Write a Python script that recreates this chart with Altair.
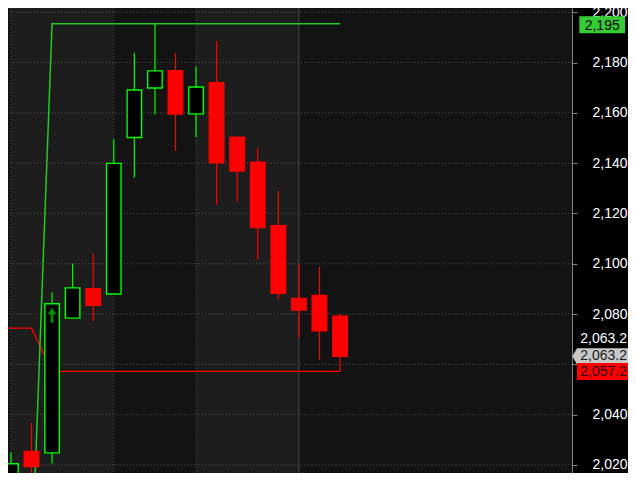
import altair as alt
import pandas as pd

# ---- candle data (bar index, OHLC) ----
idx = list(range(17))
opens  = [2012.0, 2025.4, 2024.8, 2078.4, 2090.1, 2088.0, 2150.2, 2169.9, 2176.8, 2159.6, 2172.0, 2150.3, 2140.4, 2115.1, 2086.2, 2087.4, 2079.1]
highs  = [2025.1, 2036.7, 2088.6, 2100.0, 2104.0, 2149.5, 2183.9, 2195.4, 2183.9, 2178.4, 2188.6, 2150.3, 2145.9, 2128.9, 2100.0, 2098.7, 2080.1]
lows   = [2008.0, 2010.0, 2020.6, 2078.4, 2077.2, 2088.0, 2134.2, 2159.4, 2144.9, 2150.4, 2123.5, 2124.7, 2101.6, 2085.9, 2070.6, 2061.8, 2057.2]
closes = [2020.5, 2019.4, 2084.1, 2090.4, 2083.5, 2139.9, 2169.1, 2176.7, 2159.5, 2170.3, 2140.1, 2136.9, 2114.4, 2088.3, 2081.6, 2073.3, 2063.2]

# indicator lines
green_idx = [1, 2, 16]
green_val = [1978.0, 2195.4, 2195.4]
red_idx = [-1, 1, 2, 16]
red_val = [2074.4, 2074.4, 2057.2, 2057.2]

# session bands / breaks
band_start = [-2, 0, 5, 9, 14]
band_end = [0, 5, 9, 14, 30]
band_shade = ["dark", "light", "dark", "light", "dark"]
dotted_breaks = [0, 5, 9]
solid_breaks = [14]

grid_values = [2020, 2040, 2060, 2080, 2100, 2120, 2140, 2160, 2180, 2200]
hidden_label = 2060  # covered by the price tag in the reference

arrow_idx = [2]
arrow_val = [2079.5]

hi_label_val = [2195.0]
hi_label_txt = ["2,195"]
last_val = [2063.2]
last_txt = ["2,063.2"]
lo_label_val = [2057.2]
lo_label_txt = ["2,057.2"]

W, H = 564, 465
RIGHT = 56
FONT = "Liberation Sans"

candles = pd.DataFrame({"idx": idx, "open": opens, "high": highs, "low": lows, "close": closes})
candles["body_lo"] = candles[["open", "close"]].min(axis=1)
candles["body_hi"] = candles[["open", "close"]].max(axis=1)
candles["dir"] = ["up" if c >= o else "down" for o, c in zip(opens, closes)]

xs = alt.Scale(domain=[0.1003, 27.034], nice=False, zero=False)
ys = alt.Scale(domain=[2016.8, 2201.7], nice=False, zero=False)
yaxis = alt.Axis(orient="right", values=grid_values,
                 labelExpr=f"datum.value == {hidden_label} ? '' : format(datum.value, ',d')",
                 labelColor="#ffffff",
                 labelFont=FONT, labelFontSize=14, labelAlign="right", labelBaseline="middle",
                 labelPadding=50, tickSize=5, tickColor="#808080", domainColor="#808080",
                 grid=False, title=None, labelOverlap=False, labelFlush=False, labelBound=False)

def X(field):
    return alt.X(field, type="quantitative", scale=xs, axis=None)

def Y(field):
    return alt.Y(field, type="quantitative", scale=ys, axis=yaxis)

bands = alt.Chart(pd.DataFrame({"s": band_start, "e": band_end, "shade": band_shade})).mark_rect(clip=True).encode(
    x=X("s"), x2="e", y=alt.value(0), y2=alt.value(H),
    fill=alt.Fill("shade:N", scale=alt.Scale(domain=["dark", "light"], range=["#131313", "#1d1d1d"]), legend=None),
)

hgrid = alt.Chart(pd.DataFrame({"v": grid_values})).mark_rule(color="#4f4f4f", strokeDash=[1, 2], strokeWidth=1).encode(
    y=Y("v")
)
vgrid = alt.Chart(pd.DataFrame({"b": dotted_breaks})).mark_rule(color="#4f4f4f", strokeDash=[1, 2], strokeWidth=1).encode(
    x=X("b")
)
vsolid = alt.Chart(pd.DataFrame({"b": solid_breaks})).mark_rule(color="#4a4a4a", strokeWidth=1).encode(
    x=X("b")
)

green_line = alt.Chart(pd.DataFrame({"i": green_idx, "v": green_val})).mark_line(
    clip=True, color="#22cc22", strokeWidth=1.5).encode(x=X("i"), y=Y("v"))
red_line = alt.Chart(pd.DataFrame({"i": red_idx, "v": red_val})).mark_line(
    clip=True, color="#ff0000", strokeWidth=1.3).encode(x=X("i"), y=Y("v"))

dir_stroke = alt.Scale(domain=["up", "down"], range=["#00ff00", "#ff0000"])
dir_fill = alt.Scale(domain=["up", "down"], range=["#000000", "#ff0000"])

wicks = alt.Chart(candles).mark_rule(clip=True, strokeWidth=1.2).encode(
    x=X("idx"), y=Y("low"), y2="high",
    color=alt.Color("dir:N", scale=dir_stroke, legend=None),
)
bodies = alt.Chart(candles).mark_bar(clip=True, size=14.5, strokeWidth=1.4, opacity=1).encode(
    x=X("idx"), y=Y("body_lo"), y2="body_hi",
    fill=alt.Fill("dir:N", scale=dir_fill, legend=None),
    stroke=alt.Stroke("dir:N", scale=dir_stroke, legend=None),
)

arrow = alt.Chart(pd.DataFrame({"i": arrow_idx, "v": arrow_val})).mark_point(
    shape="M0,-1 L0.6,-0.15 L0.2,-0.15 L0.2,1 L-0.2,1 L-0.2,-0.15 L-0.6,-0.15 Z",
    size=225, filled=True, color="#008a00", opacity=1, strokeWidth=0,
).encode(x=X("i"), y=Y("v"))

# price tags on the right axis
hi_df = pd.DataFrame({"v": hi_label_val, "t": hi_label_txt})
hi_box = alt.Chart(hi_df).mark_point(
    shape="M-2.285,-0.85 L2.285,-0.85 L2.285,0.85 L-2.285,0.85 Z", size=400, filled=True,
    color="#33cc33", opacity=1, strokeWidth=0).encode(x=alt.value(594.2), y=Y("v"))
hi_txt = alt.Chart(hi_df).mark_text(font=FONT, fontSize=14, color="#000000", align="center",
                                     baseline="middle", dy=1).encode(x=alt.value(594.2), y=Y("v"), text="t:N")

last_df = pd.DataFrame({"v": last_val, "t": last_txt})
last_box = alt.Chart(last_df).mark_point(
    shape="M-2.785,0 L-2.315,-0.815 L2.785,-0.815 L2.785,0.815 L-2.315,0.815 Z", size=400, filled=True,
    color="#c8c8c8", opacity=1, strokeWidth=0).encode(x=alt.value(592.15), y=Y("v"))
last_txt_m = alt.Chart(last_df).mark_text(font=FONT, fontSize=14, color="#1a1a1a", align="right",
                                           baseline="middle", dy=0).encode(x=alt.value(619), y=Y("v"), text="t:N")
last_white = alt.Chart(last_df).mark_text(font=FONT, fontSize=14, color="#ffffff", align="right",
                                           baseline="middle", dy=-17).encode(x=alt.value(619), y=Y("v"), text="t:N")

lo_df = pd.DataFrame({"v": lo_label_val, "t": lo_label_txt})
lo_box = alt.Chart(lo_df).mark_point(
    shape="M-2.55,-0.85 L2.55,-0.85 L2.55,0.85 L-2.55,0.85 Z", size=400, filled=True,
    color="#ff0000", opacity=1, strokeWidth=0).encode(x=alt.value(594.5), y=Y("v"))
lo_txt = alt.Chart(lo_df).mark_text(font=FONT, fontSize=14, color="#1a0000", align="right",
                                     baseline="middle", dy=1).encode(x=alt.value(619), y=Y("v"), text="t:N")

chart = alt.layer(
    bands, hgrid, vgrid, vsolid, red_line, green_line, wicks, bodies, arrow,
    hi_box, hi_txt, last_white, last_box, last_txt_m, lo_box, lo_txt,
).resolve_scale(
    fill="independent", color="independent", stroke="independent"
).properties(
    width=W, height=H,
    autosize=alt.AutoSizeParams(type="none"),
    padding={"left": 0, "top": 0, "right": RIGHT, "bottom": 0},
    background="#000000",
).configure_view(strokeWidth=0)

chart.save("out.html", embed_options={"renderer": "svg", "actions": False})
